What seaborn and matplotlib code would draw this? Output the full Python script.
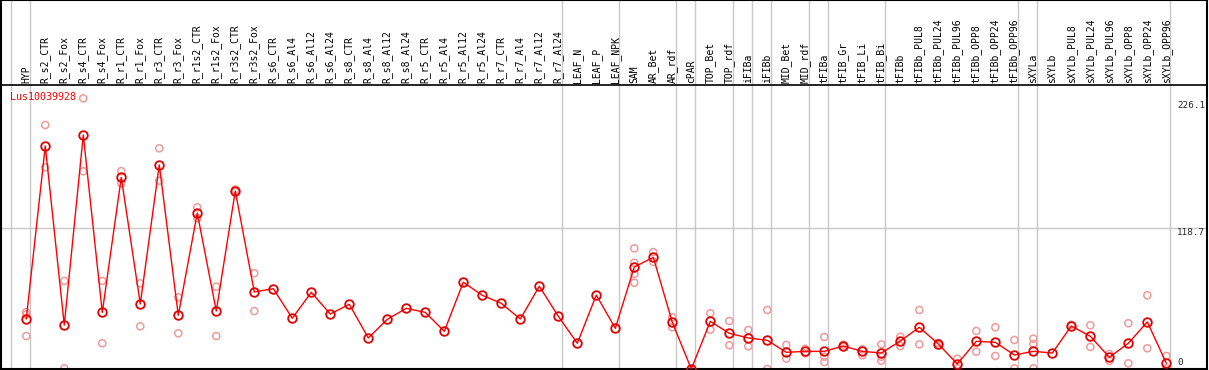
import numpy as np
import pandas as pd
import seaborn as sns
import matplotlib.pyplot as plt

samples = ["HYP", "R_s2_CTR", "R_s2_Fox", "R_s4_CTR", "R_s4_Fox", "R_r1_CTR", "R_r1_Fox",
           "R_r3_CTR", "R_r3_Fox", "R_r1s2_CTR", "R_r1s2_Fox", "R_r3s2_CTR", "R_r3s2_Fox",
           "R_s6_CTR", "R_s6_Al4", "R_s6_Al12", "R_s6_Al24", "R_s8_CTR", "R_s8_Al4",
           "R_s8_Al12", "R_s8_Al24", "R_r5_CTR", "R_r5_Al4", "R_r5_Al12", "R_r5_Al24",
           "R_r7_CTR", "R_r7_Al4", "R_r7_Al12", "R_r7_Al24", "LEAF_N", "LEAF_P", "LEAF_NPK",
           "SAM", "AR_Bet", "AR_rdf", "cPAR", "TOP_Bet", "TOP_rdf", "iFIBa", "iFIBb",
           "MID_Bet", "MID_rdf", "tFIBa", "tFIB_Gr", "tFIB_Li", "tFIB_Bi", "tFIBb",
           "tFIBb_PUL8", "tFIBb_PUL24", "tFIBb_PUL96", "tFIBb_OPP8", "tFIBb_OPP24",
           "tFIBb_OPP96", "sXYLa", "sXYLb", "sXYLb_PUL8", "sXYLb_PUL24", "sXYLb_PUL96",
           "sXYLb_OPP8", "sXYLb_OPP24", "sXYLb_OPP96"]

means = [42.2, 188.2, 37.1, 197.5, 47.8, 161.7, 54.9, 172.2, 45.3, 131.6, 48.9, 150.2, 65.0,
         67.8, 42.8, 64.7, 46.4, 54.6, 26.2, 41.9, 51.2, 47.8, 31.8, 73.2, 62.2,
         55.4, 42.2, 69.8, 44.5, 21.7, 62.4, 34.3,
         86.1, 94.2, 39.4, 0.0, 40.2, 30.1, 26.2, 24.2,
         14.1, 14.9, 14.9, 19.4, 14.9, 13.5, 23.6,
         35.2, 21.1, 4.2, 23.4, 22.5, 11.8, 14.9, 13.5,
         36.3, 27.6, 9.9, 21.7, 39.7, 4.8]

replicates = [
    [48.0, 46.0, 27.8], [205.9, 170.2], [74.3, 0.6], [228.4, 166.8], [74.3, 21.7],
    [167.0, 156.7], [72.3, 36.0], [186.2, 158.9], [60.5, 30.1], [136.4, 127.2],
    [69.5, 27.8], [151.5, 149.5], [80.8, 48.9],
    [], [], [], [], [], [], [], [], [], [], [], [], [], [], [], [], [], [], [],
    [101.8, 89.7, 80.2, 72.8], [98.7, 90.3], [43.6, 35.2], [], [47.0, 33.2],
    [40.5, 20.0], [32.9, 19.2], [49.8, 0.0], [20.3, 8.7], [17.1, 13.2],
    [27.0, 10.4, 5.9], [20.5, 18.5], [16.6, 11.6], [20.8, 10.4, 7.0], [27.3, 19.4],
    [49.8, 20.8], [22.0, 20.0], [8.7, 0.6], [32.1, 14.6], [35.2, 11.0], [24.5, 0.6],
    [25.6, 21.1, 0.6], [], [37.4], [36.9, 18.6], [12.7, 6.8], [38.6, 4.8],
    [62.2, 17.5], [11.0, 0.6]]

group_ends = [-1, 0, 28, 31, 34, 35, 37, 38, 39, 41, 42, 45, 52, 53, 60]
gene = "Lus10039928"
ytick_vals = [0, 118.7, 226.1]

mean_df = pd.DataFrame({"pos": np.arange(len(samples)), "value": means})
rep_df = pd.DataFrame([(i, v) for i, reps in enumerate(replicates) for v in reps],
                      columns=["pos", "value"])

sns.set_style("white")
mono = "DejaVu Sans Mono"

fig = plt.figure(figsize=(12.09, 3.70), dpi=100)
ax = fig.add_axes([1 / 1209, 1 / 370, 1206 / 1209, 369 / 370])

px = 1.185  # pixels per unit
ymax = 369 / px
header = (369 - 85) / px
ax.set_xlim(-1.33, 62.14)
ax.set_ylim(0, ymax)

# group separators and the one grid line
for g in group_ends:
    ax.axvline(g + 0.21, color="#c8c8c8", lw=1, zorder=0)
ax.axhline(118.7, color="#c8c8c8", lw=1, zorder=0)
ax.axhline(header, color="black", lw=1.2, zorder=1)

sns.scatterplot(data=rep_df, x="pos", y="value", ax=ax, marker="o", s=26,
                facecolor="none", edgecolor="#f09a9a", linewidth=1.1, zorder=2)
sns.lineplot(data=mean_df, x="pos", y="value", ax=ax, color="red", lw=1, sort=False,
             marker="o", markersize=6.2, markerfacecolor="none",
             markeredgecolor="#e00000", markeredgewidth=1.3, zorder=3)

for i, s in enumerate(samples):
    ax.text(i, header + 1.5, s, rotation=90, ha="center", va="bottom",
            fontsize=7, family=mono, color="black")

ax.text(-0.86, 229.5, gene, color="red", fontsize=7.1, family=mono, va="center", ha="left")
for v in ytick_vals:
    ax.text(60.58, v + (2 if v == 0 else 0), f"{v:g}", fontsize=6.7, family=mono,
            ha="left", va="bottom" if v == 0 else "top")

ax.set_xticks([])
ax.set_yticks([])
ax.set_xlabel("")
ax.set_ylabel("")
for sp in ax.spines.values():
    sp.set_color("black")
    sp.set_linewidth(1.5)

fig.savefig("out.png", dpi=100)
